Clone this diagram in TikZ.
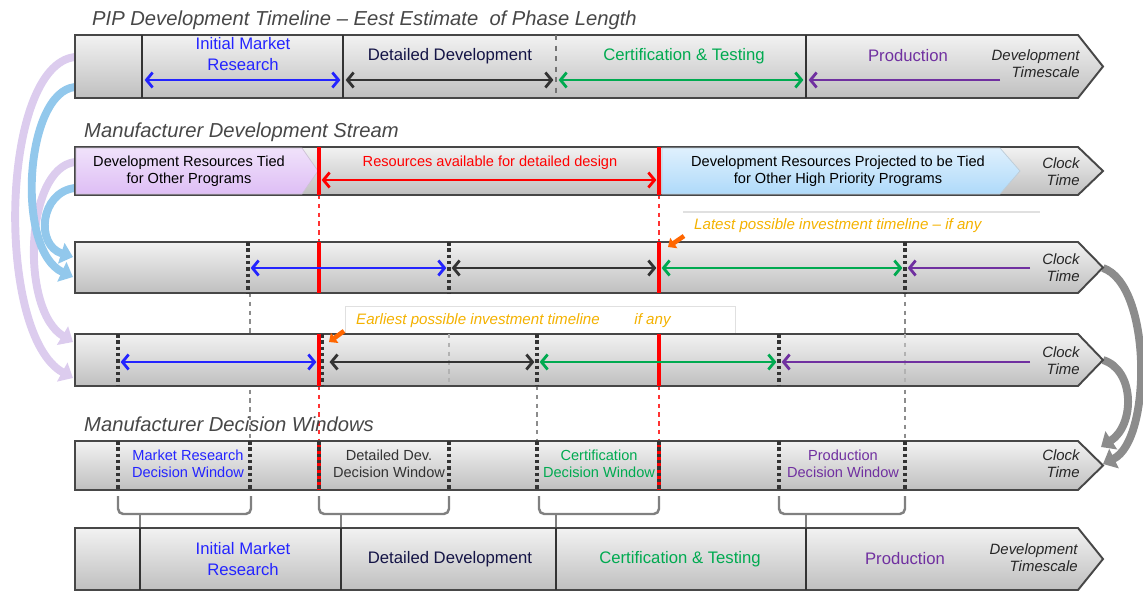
\documentclass[tikz,border=0pt]{standalone}
\usepackage{fontspec}
\setmainfont{Liberation Sans}
\usepackage{tikz}
\usetikzlibrary{arrows.meta,shapes}

\definecolor{mrblue}{RGB}{36,36,255}
\definecolor{ctgreen}{RGB}{0,170,80}
\definecolor{prpurple}{RGB}{112,48,160}
\definecolor{ddnavy}{RGB}{20,20,70}
\definecolor{notegold}{RGB}{244,178,0}
\definecolor{tiedlilac}{RGB}{222,190,245}
\definecolor{tiedblue}{RGB}{175,218,250}
\definecolor{lilacflow}{RGB}{220,204,238}
\definecolor{blueflow}{RGB}{146,200,236}

\newcommand{\timebar}[2]{%
  \path[bar] (75,#1) -- (1078,#1) -- (1103,{(#1+#2)/2}) -- (1078,#2) -- (75,#2) -- cycle;}

\begin{document}
\begin{tikzpicture}[x=0.02cm,y=-0.02cm,
  >={Straight Barb[length=3.5pt,width=8.5pt]},
  bar/.style={top color=black!5,bottom color=black!25,draw=black!72,line width=1.1pt},
  title/.style={anchor=west,font=\fontsize{11.5}{13}\selectfont\itshape,text=black!72},
  phasetext/.style={align=center,font=\fontsize{9.5}{11.5}\selectfont},
  small/.style={align=center,font=\fontsize{8.3}{9.8}\selectfont},
  clock/.style={align=right,anchor=east,inner sep=0pt,font=\fontsize{8.5}{9.5}\selectfont\itshape,text=black!85},
  phase/.style={<->,line width=1.6pt,shorten <=1.5pt,shorten >=1.5pt},
  lead/.style={->,line width=1.6pt,shorten >=1.5pt},
  divider/.style={line width=1.6pt,black!80},
  tick/.style={line width=1.8pt,black!80,dash pattern=on 2pt off 1.6pt},
  cut/.style={line width=1.8pt,red},
  guide/.style={line width=1pt,black!45,dash pattern=on 2.5pt off 2.5pt},
  brace/.style={line width=1.4pt,black!50,rounded corners=3pt},
  loopback/.style={line width=4.5pt,-{Triangle[width=12pt,length=7pt]}},
  note/.style={anchor=west,font=\fontsize{8.6}{10}\selectfont\itshape,text=notegold},
  pointer/.style={line width=2.6pt,-{Triangle[width=7pt,length=4pt]},orange!80!red}]
\useasboundingbox (0,0) rectangle (1143,592);

% flows on the left
\coordinate (pipA) at (75,57);   \coordinate (pipB) at (75,87);
\coordinate (strA) at (75,162);  \coordinate (strB) at (75,188);
\coordinate (lateA) at (73,257); \coordinate (lateB) at (73,277);
\coordinate (earlyA) at (73,342); \coordinate (earlyB) at (73,378);
\draw[loopback,lilacflow] (pipA) .. controls (0,65) and (-5,335) .. (earlyB);
\draw[loopback,lilacflow] (strA) .. controls (25,168) and (20,310) .. (earlyA);
\draw[loopback,blueflow] (pipB) .. controls (25,92) and (15,250) .. (lateB);
\draw[loopback,blueflow] (strB) .. controls (40,192) and (35,245) .. (lateA);

% flows on the right
\coordinate (lateTip) at (1103,268); \coordinate (earlyTip) at (1103,360);
\coordinate (winTipA) at (1103,464); \coordinate (winTipB) at (1101,447);
\draw[loopback,black!45] (lateTip) .. controls (1152,285) and (1152,440) .. (winTipA);
\draw[loopback,black!45] (earlyTip) .. controls (1135,370) and (1135,425) .. (winTipB);

% guides between rows
\draw[guide] (250,293) -- (250,441);
\draw[guide] (537,386) -- (537,441);
\draw[guide] (905,293) -- (905,441);
\draw[guide,red!80] (319,195) -- (319,242) (659,195) -- (659,242)
  (319,386) -- (319,441) (659,386) -- (659,441);
\draw[black!12,fill=white] (345,306) rectangle (735,334);
\draw[black!12,line width=1pt] (683,212) -- (1040,212);

% PIP timeline
\node[title] (pipTitle) at (86,20) {PIP Development Timeline – Eest Estimate\ \ of Phase Length};
\timebar{35}{98}
\draw[divider] (142,35) -- (142,98) (343,35) -- (343,98) (806,35) -- (806,98);
\draw[divider,black!55,dashed] (556,35) -- (556,98);
\foreach \n/\x in {1/142,2/343,3/556,4/806,5/1000} \coordinate (p\n) at (\x,80);
\draw[phase,mrblue] (p1) -- (p2);
\draw[phase,black!80] (p2) -- (p3);
\draw[phase,ctgreen] (p3) -- (p4);
\draw[lead,prpurple] (p5) -- (p4);
\node[phasetext,text=mrblue] (pipMR) at (243,54) {Initial Market\\Research};
\node[phasetext,text=ddnavy] (pipDD) at (450,56) {Detailed Development};
\node[phasetext,text=ctgreen] (pipCT) at (684,56) {Certification \& Testing};
\node[phasetext,text=prpurple] (pipPR) at (908,56) {Production};
\node[clock] (pipScale) at (1080,64) {Development\\Timescale};

% manufacturer stream
\node[title] (streamTitle) at (78,132) {Manufacturer Development Stream};
\timebar{147}{195}
\path[top color=tiedlilac!45,bottom color=tiedlilac,draw=tiedlilac!70!black!50]
  (76,148) -- (302,148) -- (318,171) -- (302,194) -- (76,194) -- cycle;
\path[top color=tiedblue!40,bottom color=tiedblue,draw=tiedblue!70!black!50]
  (662,148) -- (1000,148) -- (1020,171) -- (1000,194) -- (662,194) -- cycle;
\draw[cut] (319,147) -- (319,195) (659,147) -- (659,195);
\coordinate (s1) at (319,180); \coordinate (s2) at (659,180);
\draw[phase,red] (s1) -- (s2);
\node[small] (tiedNow) at (189,171) {Development Resources Tied\\for Other Programs};
\node[small,text=red] (freeText) at (490,163) {Resources available for detailed design};
\node[small] (tiedLater) at (838,171) {Development Resources Projected to be Tied\\for Other High Priority Programs};
\node[clock] (streamClock) at (1080,172) {Clock\\Time};

% latest timeline
\node[note] (lateNote) at (688,226) {Latest possible investment timeline – if any};
\timebar{242}{293}
\foreach \x in {248,449,905} \draw[tick] (\x,242) -- (\x,293);
\draw[cut] (319,242) -- (319,293) (659,242) -- (659,293);
\foreach \n/\x in {1/248,2/449,3/659,4/905,5/1030} \coordinate (l\n) at (\x,268);
\draw[phase,mrblue] (l1) -- (l2);
\draw[phase,black!80] (l2) -- (l3);
\draw[phase,ctgreen] (l3) -- (l4);
\draw[lead,prpurple] (l5) -- (l4);
\node[clock] (lateClock) at (1080,268) {Clock\\Time};
\coordinate (lateFrom) at (684,236); \coordinate (lateTo) at (668,247);
\draw[pointer] (lateFrom) -- (lateTo);

% earliest timeline
\node[note] (earlyNote) at (350,321) {Earliest possible investment timeline\hspace{2.3em}if any};
\timebar{334}{386}
\draw[guide,black!30] (449,334) -- (449,386) (905,334) -- (905,386);
\foreach \x in {118,322,537,779} \draw[tick] (\x,334) -- (\x,386);
\draw[cut] (319,334) -- (319,386) (659,334) -- (659,386);
\foreach \n/\x in {1/118,2/319,3/537,4/779,5/1030} \coordinate (e\n) at (\x,362);
\draw[phase,mrblue] (e1) -- (e2);
\draw[phase,black!80,shorten <=6pt] (e2) -- (e3);
\draw[phase,ctgreen] (e3) -- (e4);
\draw[lead,prpurple] (e5) -- (e4);
\node[clock] (earlyClock) at (1080,361) {Clock\\Time};
\coordinate (earlyFrom) at (344,331); \coordinate (earlyTo) at (329,342);
\draw[pointer] (earlyFrom) -- (earlyTo);

% decision windows
\node[title] (windowTitle) at (78,424) {Manufacturer Decision Windows};
\timebar{441}{490}
\draw[cut] (319,441) -- (319,490) (659,441) -- (659,490);
\foreach \x in {118,250,319,449,537,659,779,905} \draw[tick] (\x,441) -- (\x,490);
\node[small,text=mrblue] (winMR) at (188,464) {Market Research\\Decision Window};
\node[small,text=black!80] (winDD) at (389,464) {Detailed Dev.\\Decision Window};
\node[small,text=ctgreen] (winCT) at (599,464) {Certification\\Decision Window};
\node[small,text=prpurple] (winPR) at (843,464) {Production\\Decision Window};
\node[clock] (winClock) at (1080,464) {Clock\\Time};
\foreach \a/\b/\s in {118/251/140,319/449/341,539/659/556,779/905/806} {
  \draw[brace] (\a,496) -- (\a,514) -- (\b,514) -- (\b,496);
  \draw[brace,rounded corners=0pt] (\s,514) -- (\s,528);
}

% development timescale
\timebar{528}{590}
\draw[divider] (140,528) -- (140,590) (341,528) -- (341,590) (556,528) -- (556,590) (806,528) -- (806,590);
\node[phasetext,text=mrblue] (devMR) at (243,559) {Initial Market\\Research};
\node[phasetext,text=ddnavy] (devDD) at (450,559) {Detailed Development};
\node[phasetext,text=ctgreen] (devCT) at (680,559) {Certification \& Testing};
\node[phasetext,text=prpurple] (devPR) at (905,559) {Production};
\node[clock] (devScale) at (1078,558) {Development\\Timescale};
\end{tikzpicture}
\end{document}
